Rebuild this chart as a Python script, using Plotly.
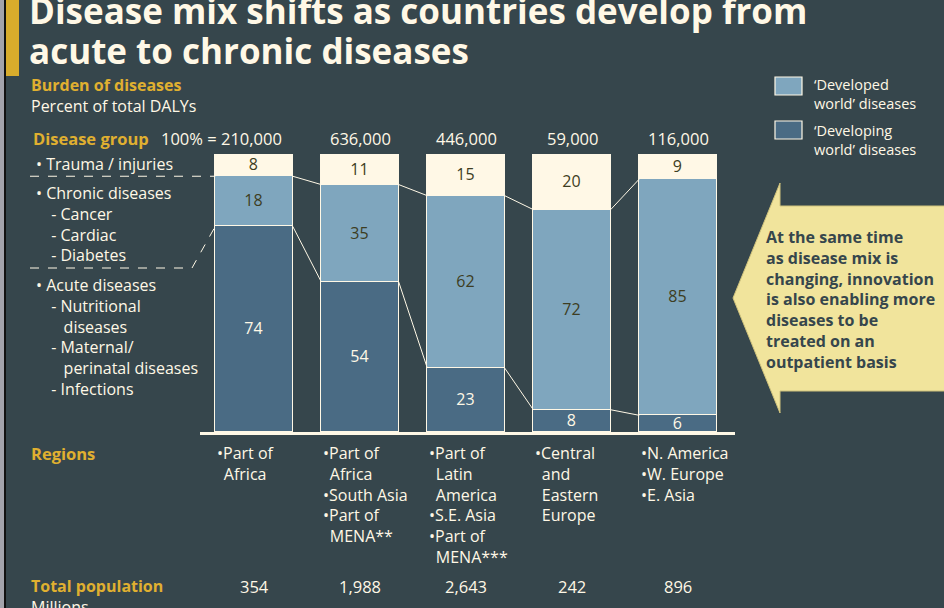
import plotly.graph_objects as go

# ---------------- data ----------------
groups = ["Part of Africa", "Part of Africa / South Asia", "Latin America / S.E. Asia",
          "Central and Eastern Europe", "N. America / W. Europe / E. Asia"]
totals = ["100% = 210,000", "636,000", "446,000", "59,000", "116,000"]
trauma = [8, 11, 15, 20, 9]
developed = [18, 35, 62, 72, 85]
developing = [74, 54, 23, 8, 6]
regions = [
    ["•Part of", " Africa"],
    ["•Part of", " Africa", "•South Asia", "•Part of", " MENA**"],
    ["•Part of", " Latin", " America", "•S.E. Asia", "•Part of", " MENA***"],
    ["•Central", " and", " Eastern", " Europe"],
    ["•N. America", "•W. Europe", "•E. Asia"],
]
population = ["354", "1,988", "2,643", "242", "896"]
label_blocks = [
    ["• Trauma / injuries"],
    ["• Chronic diseases", "- Cancer", "- Cardiac", "- Diabetes"],
    ["• Acute diseases", "- Nutritional", "  diseases", "- Maternal/",
     "  perinatal diseases", "- Infections"],
]
arrow_text = ["At the same time", "as disease mix is", "changing, innovation",
              "is also enabling more", "diseases to be", "treated on an",
              "outpatient basis"]

# ---------------- style ----------------
W, H = 944, 608
BG = "#36464c"
CREAM = "#fff8e6"
GOLD = "#e0b030"
DEV = "#7fa6be"
DEVG = "#4a6b84"
DARKTXT = "#3d3d22"
FONT = "Open Sans"
BAR_W = 0.73
LINE = 20.8  # = 1.3 * 16px font
NB = "\u00a0"
TH = "\u2009"

def px(x):
    return x / W

def py(y):
    return 1 - y / H

# plot area geometry (pixels)
X_LEFT, X_RIGHT = 200, 735
Y_TOP, Y_BOT = 154, 432
C0, STEP = 254, 106.0
xr = [(X_LEFT - C0) / STEP, (X_RIGHT - C0) / STEP]

def xpix(xv):
    return C0 + xv * STEP

def ypix(v):
    return Y_BOT - (Y_BOT - Y_TOP) * v / 100.0

xs = list(range(len(groups)))

fig = go.Figure()
for name, vals, col, tcol in [
    ("‘Developing world’ diseases", developing, DEVG, CREAM),
    ("‘Developed world’ diseases", developed, DEV, DARKTXT),
    ("Trauma / injuries", trauma, CREAM, DARKTXT),
]:
    fig.add_trace(go.Bar(
        x=xs, y=vals, width=BAR_W, name=name,
        marker=dict(color=col, line=dict(color=CREAM, width=1.2)),
        text=[str(v) for v in vals], textposition="inside", textangle=0,
        insidetextanchor="middle", constraintext="none",
        textfont=dict(family=FONT, size=16, color=tcol),
        hoverinfo="skip", showlegend=False,
    ))

# connector lines between bars
for i in range(len(xs) - 1):
    for a, b in [(developing[i], developing[i + 1]),
                 (developing[i] + developed[i], developing[i + 1] + developed[i + 1])]:
        fig.add_trace(go.Scatter(
            x=[xs[i] + BAR_W / 2, xs[i + 1] - BAR_W / 2], y=[a, b],
            mode="lines", line=dict(color=CREAM, width=1),
            hoverinfo="skip", showlegend=False, cliponaxis=False,
        ))

shapes = []
# left edge strips & gold accent
shapes.append(dict(type="rect", xref="paper", yref="paper", x0=0, x1=px(4), y0=0, y1=1,
                   fillcolor="#a3a3ab", line=dict(width=0), layer="below"))
shapes.append(dict(type="rect", xref="paper", yref="paper", x0=px(4), x1=px(6), y0=0, y1=1,
                   fillcolor="#111111", line=dict(width=0), layer="below"))
shapes.append(dict(type="rect", xref="paper", yref="paper", x0=px(6), x1=px(19), y0=py(76), y1=1,
                   fillcolor="#d8ac2c", line=dict(width=0), layer="below"))
# baseline
shapes.append(dict(type="line", xref="paper", yref="paper", x0=px(X_LEFT), x1=px(X_RIGHT),
                   y0=py(433.5), y1=py(433.5), line=dict(color=CREAM, width=3)))
# dashed guide lines
bar1_left = xpix(xs[0] - BAR_W / 2)
y_tr = ypix(developing[0] + developed[0])
y_dv = ypix(developing[0])
shapes.append(dict(type="line", xref="paper", yref="paper", x0=px(30), x1=px(bar1_left),
                   y0=py(y_tr), y1=py(y_tr), line=dict(color=CREAM, width=1, dash="dash")))
shapes.append(dict(type="path", xref="paper", yref="paper",
                   path=f"M {px(30)},{py(268)} L {px(192)},{py(268)} L {px(bar1_left)},{py(y_dv)}",
                   line=dict(color=CREAM, width=1, dash="dash")))
# legend squares
shapes.append(dict(type="rect", xref="paper", yref="paper", x0=px(775), x1=px(802), y0=py(95), y1=py(77),
                   fillcolor=DEV, line=dict(color=CREAM, width=1.2)))
shapes.append(dict(type="rect", xref="paper", yref="paper", x0=px(775), x1=px(802), y0=py(139), y1=py(121),
                   fillcolor=DEVG, line=dict(color=CREAM, width=1.2)))
# arrow
pts = [(733, 298), (780, 183), (780, 206), (946, 206), (946, 391), (780, 391), (780, 413)]
path = "M " + " L ".join(f"{px(x)},{py(y)}" for x, y in pts) + " Z"
shapes.append(dict(type="path", xref="paper", yref="paper", path=path,
                   fillcolor="#f1e49c", line=dict(color="#cfc27c", width=1)))

ann = []

def text(t, x, y, size=16, color=CREAM, bold=False, xanchor="left", yanchor="middle", align="left"):
    ann.append(dict(text=f"<b>{t}</b>" if bold else t, x=px(x), y=py(y), xref="paper", yref="paper",
                    xanchor=xanchor, yanchor=yanchor, align=align, showarrow=False,
                    font=dict(family=FONT, size=size, color=color)))

def block(lines, x, y_first, size=16, color=CREAM, bold=False, step=LINE):
    text("<br>".join(lines), x, y_first + (len(lines) - 1) * step / 2,
         size=size, color=color, bold=bold)

def indent_label(l):
    if l.startswith("-"):
        return NB * 3 + TH + l.replace(" ", NB)
    if l.startswith("  "):
        return NB * 6 + TH + l.strip().replace(" ", NB)
    return l.replace(" ", NB)

# title
text("Disease mix shifts as countries develop from", 27, 11, size=35, bold=True)
text("acute to chronic diseases", 27, 51, size=35, bold=True)
text(f"<b><span style='color:{GOLD}'>Burden of diseases</span></b><br>Percent of total DALYs",
     29, 95, size=16)
text("Disease group", 31, 138, size=16.5, color=GOLD, bold=True)

for i, t in enumerate(totals):
    if i == 0:
        text(t, xpix(xs[i]) + 30, 138, size=16.5, xanchor="right")
    else:
        text(t, xpix(xs[i]), 138, size=16.5, xanchor="center")

for lines, y0 in zip(label_blocks, [164, 193, 285]):
    block([indent_label(l) for l in lines], 34, y0, size=16)

# legend text
block(["‘Developed", "world’ diseases"], 812, 85, size=14.5, step=18.85)
block(["‘Developing", "world’ diseases"], 812, 131, size=14.5, step=18.85)

# arrow text
block(arrow_text, 764, 237, size=16, color=BG, bold=True)

# regions
text("Regions", 29, 453, size=16.5, color=GOLD, bold=True)
for i, lines in enumerate(regions):
    rl = [(NB + TH + l.strip()) if l.startswith(" ") else l for l in lines]
    block(rl, xpix(xs[i] - BAR_W / 2), 453, size=16)

# population
text(f"<b><span style='color:{GOLD}'>Total population</span></b><br>Millions", 29, 596, size=16)
for i, p in enumerate(population):
    text(p, xpix(xs[i]), 586, size=16.5, xanchor="center")

fig.update_layout(
    width=W, height=H,
    margin=dict(l=0, r=0, t=0, b=0),
    paper_bgcolor=BG, plot_bgcolor=BG,
    barmode="stack", bargap=0,
    uniformtext=dict(minsize=16, mode="show"),
    xaxis=dict(domain=[px(X_LEFT), px(X_RIGHT)], range=xr, visible=False, fixedrange=True),
    yaxis=dict(domain=[py(Y_BOT), py(Y_TOP)], range=[0, 100], visible=False, fixedrange=True),
    shapes=shapes, annotations=ann,
    showlegend=False,
)

fig.write_html("out.html", config={"displayModeBar": False},
               post_script="document.body.style.margin='0';document.body.style.overflow='hidden';")
